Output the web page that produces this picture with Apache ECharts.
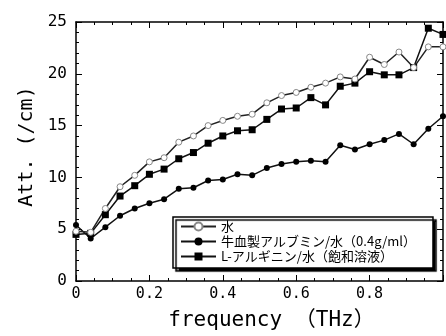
<!DOCTYPE html>
<html>
<head>
<meta charset="utf-8">
<script src="https://cdn.jsdelivr.net/npm/echarts@6/dist/echarts.min.js"></script>
<style>
  html, body { margin: 0; padding: 0; background: #fff; }
  #chart { width: 446px; height: 336px; }
</style>
</head>
<body>
<div id="chart"></div>
<script>
// frequency (THz)
const freq = [0, 0.04, 0.08, 0.12, 0.16, 0.2, 0.24, 0.28, 0.32, 0.36, 0.4, 0.44, 0.48,
  0.52, 0.56, 0.6, 0.64, 0.68, 0.72, 0.76, 0.8, 0.84, 0.88, 0.92, 0.96, 1.0]

// Att. (/cm)
const water = [4.8, 4.7, 7.0, 9.1, 10.2, 11.5, 11.9, 13.4, 14.0, 15.0, 15.5, 15.9, 16.1,
  17.2, 17.9, 18.2, 18.7, 19.1, 19.7, 19.5, 21.6, 20.9, 22.1, 20.6, 22.6, 22.6]
const bsa = [5.4, 4.1, 5.2, 6.3, 7.0, 7.5, 7.9, 8.9, 9.0, 9.7, 9.8, 10.3, 10.2,
  10.9, 11.3, 11.5, 11.6, 11.5, 13.1, 12.7, 13.2, 13.6, 14.2, 13.2, 14.7, 15.9]
const arginine = [4.5, 4.6, 6.4, 8.2, 9.2, 10.3, 10.8, 11.8, 12.4, 13.3, 14.0, 14.5, 14.6,
  15.6, 16.6, 16.7, 17.7, 17.0, 18.8, 19.1, 20.2, 19.9, 19.9, 20.6, 24.4, 23.8]

const seriesNames = ['水', '牛血製アルブミン/水（0.4g/ml）', 'L-アルギニン/水（飽和溶液）']

const monoFont = "'DejaVu Sans Mono', 'Noto Sans CJK JP', monospace"
const jpFont = "'Noto Sans CJK JP', sans-serif"

const pairs = (ys) => freq.map((x, i) => [x, ys[i]])

const chart = echarts.init(document.getElementById('chart'))

// fresh objects for every axis
const axisLine = () => ({ show: true, onZero: false, lineStyle: { color: '#000', width: 1.5 } })
const tick = () => ({ show: true, inside: true, length: 6, lineStyle: { color: '#000', width: 1 } })
const minorTick = (n) => ({ show: true, splitNumber: n, length: 3, lineStyle: { color: '#000', width: 1 } })

const option = {
  animation: false,
  backgroundColor: '#fff',
  grid: { left: 76, right: -5, top: 22, bottom: 50 },
  legend: {
    data: seriesNames,
    orient: 'vertical',
    left: 173,
    top: 217,
    itemWidth: 35,
    itemHeight: 10,
    itemGap: 2,
    padding: [3, 17, 5, 7],
    backgroundColor: '#fff',
    borderColor: '#000',
    borderWidth: 1.5,
    borderRadius: 0,
    shadowColor: '#000',
    shadowBlur: 1,
    shadowOffsetX: 3,
    shadowOffsetY: 3,
    textStyle: { fontFamily: jpFont, fontSize: 13, color: '#000' }
  },
  xAxis: [
    {
      type: 'value',
      min: 0,
      max: 1.0,
      interval: 0.2,
      name: 'frequency （THz）',
      nameLocation: 'middle',
      nameGap: 29,
      nameTextStyle: { fontFamily: monoFont, fontSize: 21, color: '#000', padding: [0, 0, 0, 24] },
      axisLine: axisLine(),
      axisTick: tick(),
      minorTick: minorTick(4),
      splitLine: { show: false },
      axisLabel: {
        margin: 6,
        fontFamily: monoFont,
        fontSize: 15,
        color: '#000',
        formatter: (v) => (v >= 1 ? '' : v === 0 ? '0' : v.toFixed(1))
      }
    },
    {
      type: 'value',
      position: 'top',
      min: 0,
      max: 1.0,
      interval: 0.2,
      axisLine: axisLine(),
      axisTick: tick(),
      minorTick: minorTick(4),
      splitLine: { show: false },
      axisLabel: { show: false }
    }
  ],
  yAxis: [
    {
      type: 'value',
      min: 0,
      max: 25,
      interval: 5,
      name: 'Att. (/cm)',
      nameLocation: 'middle',
      nameGap: 38,
      nameTextStyle: { fontFamily: monoFont, fontSize: 20, color: '#000', padding: [0, 0, 0, 10] },
      axisLine: axisLine(),
      axisTick: tick(),
      minorTick: minorTick(5),
      splitLine: { show: false },
      axisLabel: { margin: 9, fontFamily: monoFont, fontSize: 16, color: '#000' }
    },
    {
      type: 'value',
      position: 'right',
      min: 0,
      max: 25,
      interval: 5,
      axisLine: axisLine(),
      axisTick: tick(),
      minorTick: minorTick(5),
      splitLine: { show: false },
      axisLabel: { show: false }
    }
  ],
  series: [
    {
      name: seriesNames[2],
      type: 'line',
      data: pairs(arginine),
      symbol: 'rect',
      symbolSize: 7,
      itemStyle: { color: '#000' },
      lineStyle: { color: '#111', width: 1.5 }
    },
    {
      name: seriesNames[1],
      type: 'line',
      data: pairs(bsa),
      symbol: 'circle',
      symbolSize: 6,
      itemStyle: { color: '#000' },
      lineStyle: { color: '#111', width: 1.5 }
    },
    {
      name: seriesNames[0],
      type: 'line',
      data: pairs(water),
      symbol: 'circle',
      symbolSize: 6,
      itemStyle: { color: '#fff', borderColor: '#888', borderWidth: 1 },
      lineStyle: { color: '#222', width: 1.5 }
    }
  ]
}

chart.setOption(option)
</script>
</body>
</html>
